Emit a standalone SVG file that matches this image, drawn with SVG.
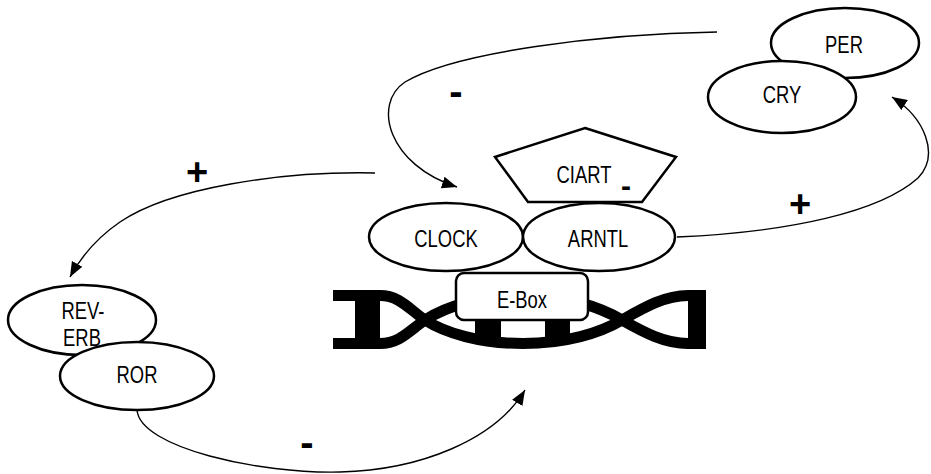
<svg xmlns="http://www.w3.org/2000/svg" width="931" height="474" viewBox="0 0 931 474">
  <style>
    .node { fill: #ffffff; stroke: #000000; stroke-width: 2.5; }
    .label { font-family: "Liberation Sans", Arial, sans-serif; font-size: 23px; fill: #000000; text-anchor: middle; }
    .sign { font-family: "Liberation Sans", Arial, sans-serif; font-weight: bold; fill: #000000; text-anchor: middle; }
    .link { fill: none; stroke: #000000; stroke-width: 1.4; }
    .strand { fill: none; stroke: #000000; stroke-width: 11; }
  </style>
  <defs>
    <marker id="arrow" markerUnits="userSpaceOnUse" markerWidth="17" markerHeight="13" refX="15" refY="6" orient="auto">
      <path d="M0,0 L15,6 L0,12 z" fill="#000000"/>
    </marker>
  </defs>
  <rect width="931" height="474" fill="#ffffff"/>

  <!-- DNA double helix -->
  <g id="dna">
    <path class="strand" d="M333,295.5 L380,295.5 C400,295.5 410,310 425,320 C445,333 480,343.5 523,343.5 C566,343.5 600,333 622,320 C645,307 665,295.5 688,295.5 L706,295.5"/>
    <path class="strand" d="M333,343.5 L380,343.5 C400,343.5 410,330 425,320 C445,307 480,295.5 523,295.5 C566,295.5 600,307 622,320 C645,333 665,343.5 688,343.5 L706,343.5"/>
    <rect x="355" y="290" width="25" height="59" fill="#000000"/>
    <rect x="688" y="290" width="18" height="59" fill="#000000"/>
    <rect x="475" y="300" width="26" height="42" fill="#000000"/>
    <rect x="545" y="300" width="25" height="42" fill="#000000"/>
  </g>

  <!-- connectors -->
  <g id="connectors">
    <path class="link" d="M717,32 C600,34 455,52 405,82 C372,104 388,165 457,187" marker-end="url(#arrow)"/>
    <path class="link" d="M375,173 C280,171 170,188 120,222 C98,237 82,255 70,277" marker-end="url(#arrow)"/>
    <path class="link" d="M677,237 C790,232 880,212 918,178 C940,155 925,118 892,97" marker-end="url(#arrow)"/>
    <path class="link" d="M137,410 C140,448 260,474 340,472 C420,470 495,440 525,390" marker-end="url(#arrow)"/>
    <text class="sign" x="456" y="105" font-size="40">-</text>
    <text class="sign" x="197" y="185" font-size="38">+</text>
    <text class="sign" x="800" y="217" font-size="38">+</text>
    <text class="sign" x="307" y="456" font-size="40">-</text>
  </g>

  <!-- nodes -->
  <g id="per">
    <ellipse class="node" cx="845" cy="43" rx="74" ry="35"/>
    <text class="label" transform="translate(844,53) scale(0.8,1)">PER</text>
  </g>
  <g id="cry">
    <ellipse class="node" cx="782" cy="97" rx="74" ry="36"/>
    <text class="label" transform="translate(782,103) scale(0.8,1)">CRY</text>
  </g>
  <g id="ciart">
    <polygon class="node" points="585,128 676,157 642,202 528,202 495,157"/>
    <text class="label" transform="translate(584,183) scale(0.8,1)">CIART</text>
    <text class="sign" x="626" y="196" font-size="30">-</text>
  </g>
  <g id="clock">
    <ellipse class="node" cx="446" cy="237" rx="77" ry="34"/>
    <text class="label" transform="translate(446,247) scale(0.8,1)">CLOCK</text>
  </g>
  <g id="arntl">
    <ellipse class="node" cx="599" cy="237" rx="76" ry="34"/>
    <text class="label" transform="translate(598,247) scale(0.8,1)">ARNTL</text>
  </g>
  <g id="ebox">
    <rect class="node" x="456" y="273" width="132" height="47" rx="8" ry="8" stroke-width="2"/>
    <text class="label" transform="translate(522,308) scale(0.8,1)">E-Box</text>
  </g>
  <g id="rev-erb">
    <ellipse class="node" cx="82" cy="320" rx="74" ry="35"/>
    <text class="label" transform="translate(83,319) scale(0.8,1)">REV-</text>
    <text class="label" transform="translate(82,346) scale(0.8,1)">ERB</text>
  </g>
  <g id="ror">
    <ellipse class="node" cx="137" cy="376" rx="77" ry="34"/>
    <text class="label" transform="translate(137,383) scale(0.8,1)">ROR</text>
  </g>
</svg>
